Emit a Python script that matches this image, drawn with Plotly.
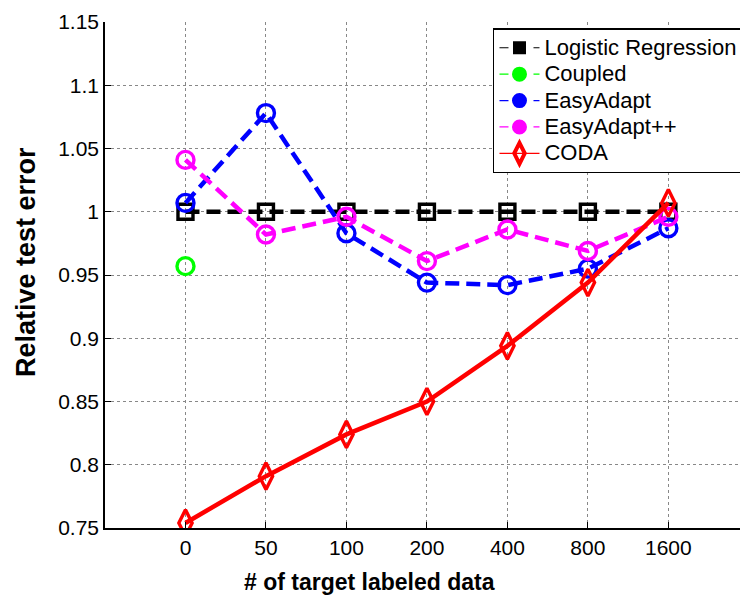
import plotly.graph_objects as go

# Amount of labeled target data (categorical x positions)
sizes = ["0", "50", "100", "200", "400", "800", "1600"]

# Relative test error per method
logreg = [1.000, 1.000, 1.000, 1.000, 1.000, 1.000, 1.000]
coupled = [0.957]
easyadapt = [1.007, 1.078, 0.983, 0.944, 0.942, 0.955, 0.987]
easyadapt_pp = [1.041, 0.982, 0.996, 0.961, 0.986, 0.969, 0.996]
coda = [0.754, 0.791, 0.824, 0.850, 0.894, 0.944, 1.007]

y_ticks = [0.75, 0.8, 0.85, 0.9, 0.95, 1.0, 1.05, 1.1, 1.15]
y_tick_text = ["0.75", "0.8", "0.85", "0.9", "0.95", "1", "1.05", "1.1", "1.15"]

FONT = "Liberation Sans, Arial, Helvetica, sans-serif"
DASH = "14px,7px"

xi = list(range(len(sizes)))

series = [
    dict(name="Logistic Regression", y=logreg, color="#000000",
         symbol="square-open", size=15, dash=DASH,
         leg_symbol="square", leg_size=10, leg_lw=3, leg_dash="9px,8px"),
    dict(name="Coupled", y=coupled, color="#00ff00",
         symbol="circle-open", size=17, dash=DASH,
         leg_symbol="circle", leg_size=12, leg_lw=3, leg_dash="9px,8px"),
    dict(name="EasyAdapt", y=easyadapt, color="#0000ff",
         symbol="circle-open", size=17, dash=DASH,
         leg_symbol="circle", leg_size=12, leg_lw=3, leg_dash="9px,8px"),
    dict(name="EasyAdapt++", y=easyadapt_pp, color="#ff00ff",
         symbol="circle-open", size=17, dash=DASH,
         leg_symbol="circle", leg_size=12, leg_lw=3, leg_dash="9px,8px"),
    dict(name="CODA", y=coda, color="#ff0000",
         symbol="diamond-tall-open", size=19, dash="solid",
         leg_symbol="diamond-tall-open", leg_size=15, leg_lw=4, leg_dash="solid"),
]

fig = go.Figure()

# plotted series
for s in series:
    n = len(s["y"])
    fig.add_trace(go.Scatter(
        x=xi[:n], y=s["y"], name=s["name"], mode="lines+markers",
        showlegend=False,
        line=dict(color=s["color"], width=4.5, dash=s["dash"]),
        marker=dict(symbol=s["symbol"], size=s["size"], color=s["color"],
                    line=dict(width=3.4, color=s["color"])),
    ))

# legend entries: thin line with a compact marker
for s in series:
    fig.add_trace(go.Scatter(
        x=[None], y=[None],
        name='<span style="font-size:22px">' + s["name"] + "</span>",
        mode="lines+markers", showlegend=True,
        line=dict(color=s["color"], width=1.2, dash=s["leg_dash"]),
        marker=dict(symbol=s["leg_symbol"], size=s["leg_size"], color=s["color"],
                    line=dict(width=s["leg_lw"], color=s["color"])),
    ))

fig.update_layout(
    width=740, height=600,
    margin=dict(l=105, r=0, t=22, b=72, autoexpand=False),
    paper_bgcolor="white", plot_bgcolor="white",
    font=dict(family=FONT, size=21, color="#000000"),
    legend=dict(
        x=0.611, y=0.988, xanchor="left", yanchor="top",
        bgcolor="white", bordercolor="#000000", borderwidth=1.5,
        font=dict(family=FONT, size=18, color="#000000"),
        tracegroupgap=0, itemwidth=40,
    ),
    showlegend=True,
    annotations=[
        dict(text="<b>Relative test error</b>", textangle=-90,
             xref="paper", yref="paper", x=-0.1244, y=0.5257,
             xanchor="center", yanchor="middle", showarrow=False,
             font=dict(family=FONT, size=27, color="#000000")),
        dict(text="<b># of target labeled data</b>",
             xref="paper", yref="paper", x=(369 - 105) / 635, y=-(582 - 528) / 506,
             xanchor="center", yanchor="middle", showarrow=False,
             font=dict(family=FONT, size=23, color="#000000")),
    ],
)

fig.update_xaxes(
    range=[-1, 6.89],
    tickmode="array", tickvals=xi, ticktext=sizes,
    ticks="inside", ticklen=6, tickcolor="#000000", tickwidth=1,
    showline=True, linecolor="#000000", linewidth=1.5, mirror=False,
    showgrid=True, gridcolor="#888888", gridwidth=1, griddash="dot",
    zeroline=False,
    tickfont=dict(family=FONT, size=21),
)
fig.update_yaxes(
    range=[0.75, 1.15],
    tickmode="array", tickvals=y_ticks, ticktext=y_tick_text,
    ticks="inside", ticklen=6, tickcolor="#000000", tickwidth=1,
    showline=True, linecolor="#000000", linewidth=1.5, mirror=False,
    showgrid=True, gridcolor="#888888", gridwidth=1, griddash="dot",
    zeroline=False,
    tickfont=dict(family=FONT, size=21),
)

fig.write_html("out.html")
